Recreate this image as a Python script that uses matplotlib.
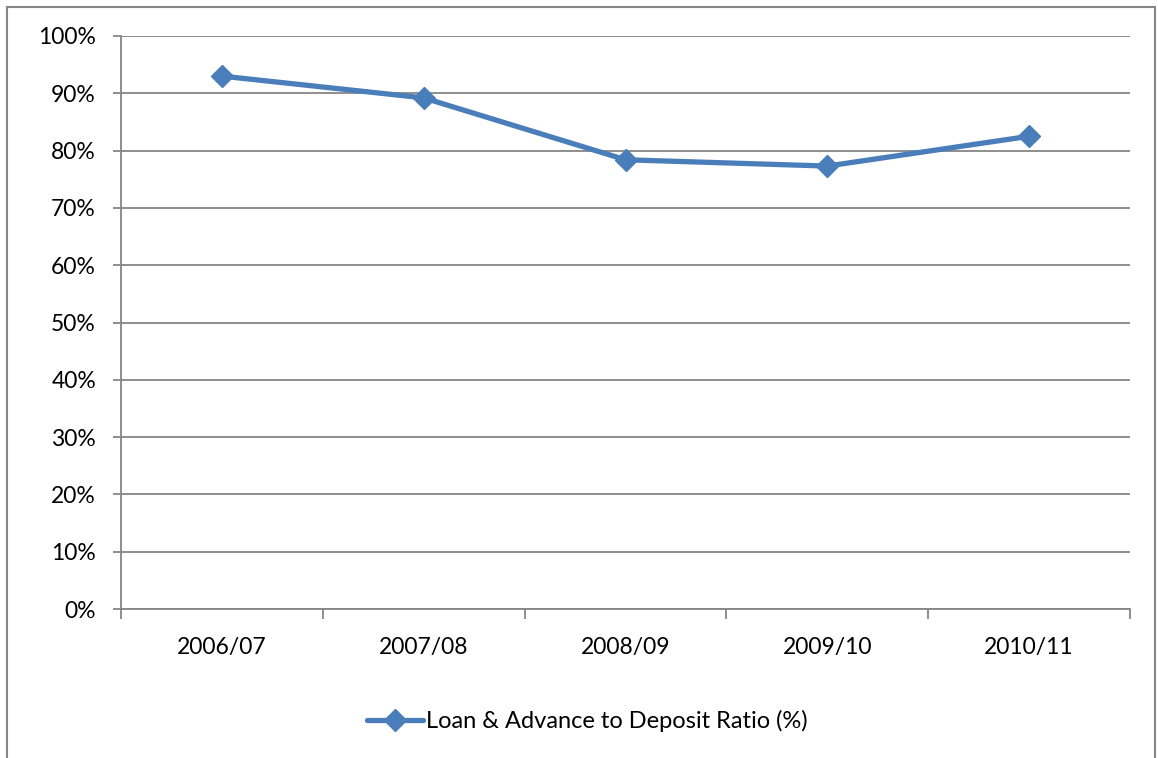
import matplotlib.pyplot as plt
from matplotlib.patches import Rectangle
from matplotlib.ticker import FixedLocator, PercentFormatter

plt.rcParams['font.family'] = ['Lato', 'DejaVu Sans']

years = ['2006/07', '2007/08', '2008/09', '2009/10', '2010/11']
ratio = [93.0, 89.2, 78.4, 77.3, 82.5]
series_name = 'Loan & Advance to Deposit Ratio (%)'

line_color = '#4a7ebb'
grid_color = '#868686'

W, H = 1158, 758
fig = plt.figure(figsize=(W / 100, H / 100), dpi=100)

# plot area in pixel terms
left, right, top, bottom = 121, 1130, 36, 609
ax = fig.add_axes([left / W, 1 - bottom / H, (right - left) / W, (bottom - top) / H])

x = list(range(len(years)))
ax.plot(x, ratio, color=line_color, lw=3.8, marker='D', ms=11,
        markerfacecolor=line_color, markeredgecolor=line_color,
        label=series_name, zorder=3, solid_capstyle='round')

ax.set_xlim(-0.5, len(years) - 0.5)
ax.set_ylim(0, 100)
ax.yaxis.set_major_locator(FixedLocator(range(0, 101, 10)))
ax.yaxis.set_major_formatter(PercentFormatter(decimals=0))
ax.set_xticks(x)
ax.set_xticklabels(years)
ax.xaxis.set_minor_locator(FixedLocator([i - 0.5 for i in range(len(years) + 1)]))

ax.grid(axis='y', color=grid_color, lw=1.3)
ax.set_axisbelow(True)
for side in ['top', 'right']:
    ax.spines[side].set_visible(False)
for side in ['left', 'bottom']:
    ax.spines[side].set_color(grid_color)
    ax.spines[side].set_linewidth(1.3)

ax.tick_params(axis='y', length=6, width=1.3, color=grid_color, labelsize=16.5, pad=12)
ax.tick_params(axis='x', which='major', length=0, labelsize=16.5, pad=20)
ax.tick_params(axis='x', which='minor', length=7, width=1.3, color=grid_color)

leg = ax.legend(loc='center', bbox_to_anchor=(0.462, -0.195), frameon=False,
                fontsize=17, handlelength=2.4, handletextpad=0.1)

# chart frame
fig.patches.append(Rectangle((7 / W, -0.05), (1155 - 7) / W, 1.05 - 7 / H,
                             transform=fig.transFigure, fill=False,
                             edgecolor=grid_color, lw=1.5))

fig.savefig('out.png', dpi=100, facecolor='white')
